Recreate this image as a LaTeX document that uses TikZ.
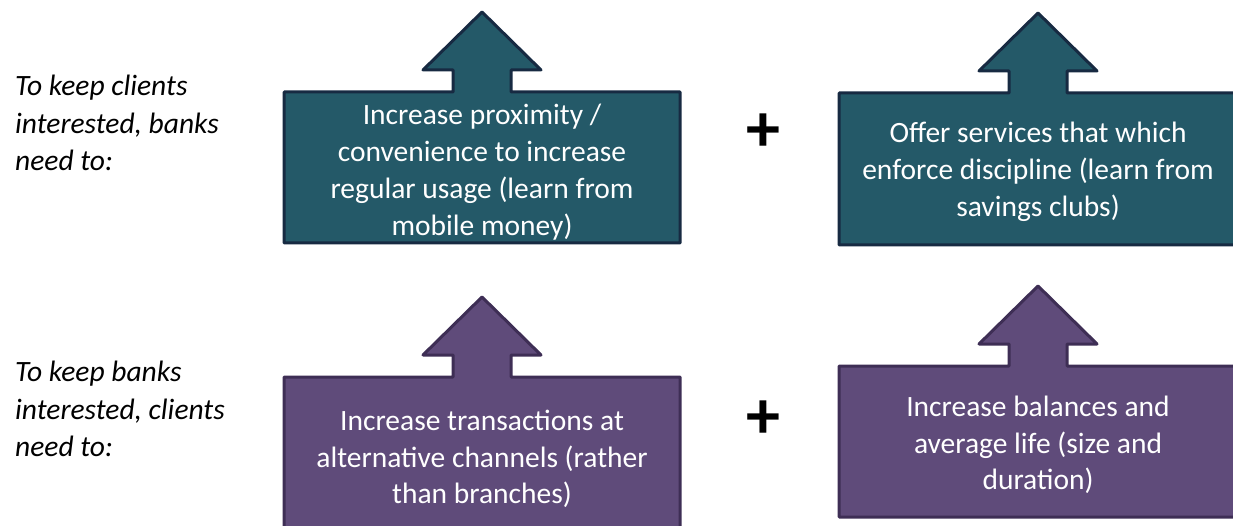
\documentclass[tikz,border=0pt]{standalone}
\usepackage{fontspec}
\setmainfont{Carlito}
\begin{document}
\begin{tikzpicture}[x=1pt,y=-1pt,
  tealfill/.style={fill={rgb,255:red,36;green,89;blue,104}, draw={rgb,255:red,23;green,42;blue,66}, line width=3pt, line join=round},
  purplefill/.style={fill={rgb,255:red,95;green,75;blue,122}, draw={rgb,255:red,62;green,46;blue,85}, line width=3pt, line join=round},
  boxtext/.style={text=white, align=center, font=\fontsize{29.5}{36.8}\selectfont, inner sep=0pt},
  sidetext/.style={align=left, anchor=north west, font=\fontsize{29.5}{37.5}\selectfont\itshape, inner sep=0pt},
  plussign/.style={font=\fontsize{68}{68}\selectfont\bfseries, inner sep=0pt}]
\useasboundingbox (0,0) rectangle (1233,526);
% callout: L R T B X
\newcommand\upcallout[6]{%
  \path[#6] (#1,#3) -- (#5-29,#3) -- (#5-29,#3-22) -- (#5-59,#3-22) -- (#5,#3-80)
    -- (#5+59,#3-22) -- (#5+29,#3-22) -- (#5+29,#3) -- (#2,#3) -- (#2,#4) -- (#1,#4) -- cycle;}
\begin{scope}
\clip (0,0) rectangle (1233,526);
\upcallout{284}{680}{92}{243}{482}{tealfill}
\upcallout{839}{1245}{93}{245}{1038}{tealfill}
\upcallout{284}{680}{377}{540}{482}{purplefill}
\upcallout{839}{1245}{366}{517}{1038}{purplefill}
\end{scope}
\node[boxtext] (t1) at (482,172) {Increase proximity /\\convenience to increase\\regular usage (learn from\\mobile money)};
\node[boxtext] (t2) at (1038,172) {Offer services that which\\enforce discipline (learn from\\savings clubs)};
\node[boxtext] (t3) at (482,459) {Increase transactions at\\alternative channels (rather\\than branches)};
\node[boxtext] (t4) at (1038,445) {Increase balances and\\average life (size and\\duration)};
\node[sidetext] (s1) at (15,75) {To keep clients\\interested, banks\\need to:};
\node[sidetext] (s2) at (15,361) {To keep banks\\interested, clients\\need to:};
\node[plussign] (p1) at (763,133) {+};
\node[plussign] (p2) at (763,420) {+};
\end{tikzpicture}
\end{document}
